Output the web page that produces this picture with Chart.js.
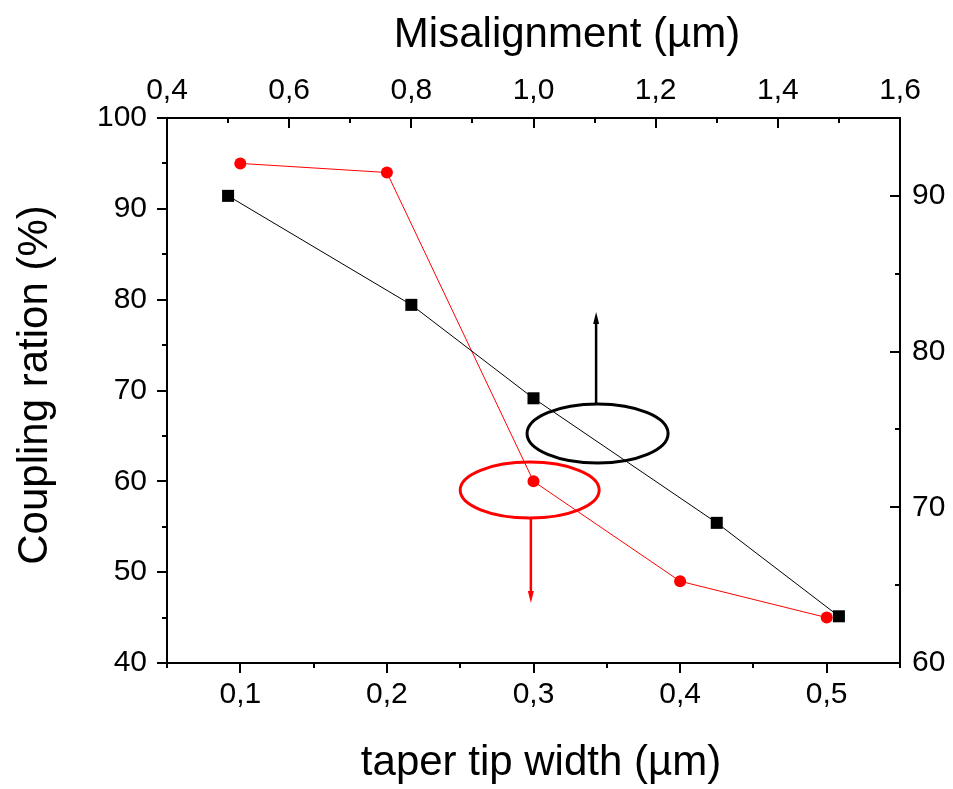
<!DOCTYPE html>
<html>
<head>
<meta charset="utf-8">
<script src="https://cdn.jsdelivr.net/npm/chart.js@4.4.0/dist/chart.umd.min.js"></script>
<style>
    html, body { margin: 0; padding: 0; background: #ffffff; }
    #contenedor { width: 953px; height: 789px; }
</style>
</head>
<body>
<div id="contenedor"><canvas id="graficaAcoplamiento" width="953" height="789"></canvas></div>
<script>
// taper tip width (bottom axis) vs coupling (left axis)
const taperWidth = [0.1, 0.2, 0.3, 0.4, 0.5];
const couplingTaper = [95, 94, 60, 49, 45];
// misalignment (top axis) vs coupling (right axis)
const misalignment = [0.5, 0.8, 1.0, 1.3, 1.5];
const couplingMisalign = [90, 83, 77, 69, 63];

const bottomTicks = [0.1, 0.2, 0.3, 0.4, 0.5];
const bottomMinor = [0.05, 0.15, 0.25, 0.35, 0.45, 0.55];
const topTicks = [0.4, 0.6, 0.8, 1.0, 1.2, 1.4, 1.6];
const topMinor = [0.5, 0.7, 0.9, 1.1, 1.3, 1.5];
const leftTicks = [40, 50, 60, 70, 80, 90, 100];
const leftMinor = [45, 55, 65, 75, 85, 95];
const rightTicks = [60, 70, 80, 90];
const rightMinor = [65, 75, 85, 95];

const FAMILIA = "'Liberation Sans', Arial, sans-serif";
const coma = (v) => Number(v).toFixed(1).replace('.', ',');
const fijarTicks = (lista) => (scale) => { scale.ticks = lista.map(v => ({ value: v })); };

// frame, major and minor ticks, axis titles
const ejes = {
    id: 'ejes',
    afterDraw(chart) {
        const ctx = chart.ctx;
        const area = chart.chartArea;
        const s = chart.scales;
        ctx.save();
        ctx.strokeStyle = '#000000';
        ctx.lineWidth = 2;
        ctx.strokeRect(area.left, area.top, area.right - area.left, area.bottom - area.top);

        function horiz(scale, valores, y0, dir, largo) {
            valores.forEach(v => {
                const px = Math.round(scale.getPixelForValue(v));
                ctx.beginPath();
                ctx.moveTo(px, y0);
                ctx.lineTo(px, y0 + dir * largo);
                ctx.stroke();
            });
        }
        function vert(scale, valores, x0, dir, largo) {
            valores.forEach(v => {
                const py = Math.round(scale.getPixelForValue(v));
                ctx.beginPath();
                ctx.moveTo(x0, py);
                ctx.lineTo(x0 + dir * largo, py);
                ctx.stroke();
            });
        }
        horiz(s.x, bottomTicks, area.bottom, 1, 10);
        horiz(s.x, bottomMinor, area.bottom, 1, 5);
        horiz(s.x2, topTicks, area.top, 1, 10);
        horiz(s.x2, topMinor, area.top, 1, 5);
        vert(s.y, leftTicks, area.left, -1, 10);
        vert(s.y, leftMinor, area.left, -1, 5);
        vert(s.y2, rightTicks, area.right, -1, 10);
        vert(s.y2, rightMinor, area.right, -1, 5);

        ctx.fillStyle = '#000000';
        ctx.font = '42px ' + FAMILIA;
        ctx.textAlign = 'center';
        ctx.textBaseline = 'alphabetic';
        ctx.fillText('Misalignment (µm)', 567, 47);
        ctx.fillText('taper tip width (µm)', 541, 775);
        ctx.translate(47, 385);
        ctx.rotate(-Math.PI / 2);
        ctx.fillText('Coupling ration (%)', 0, 0);
        ctx.restore();
    }
};

// ellipses with arrows pointing to the axis of each curve
const indicadores = {
    id: 'indicadores',
    afterDatasetsDraw(chart) {
        const ctx = chart.ctx;
        const x = chart.scales.x;
        const y = chart.scales.y;

        function elipse(cx, cy, rx, ry, color) {
            const px = x.getPixelForValue(cx);
            const py = y.getPixelForValue(cy);
            ctx.beginPath();
            ctx.ellipse(px, py,
                x.getPixelForValue(cx + rx) - px,
                py - y.getPixelForValue(cy + ry), 0, 0, Math.PI * 2);
            ctx.strokeStyle = color;
            ctx.lineWidth = 3;
            ctx.stroke();
        }
        function flecha(vx, desde, hasta, color) {
            const px = x.getPixelForValue(vx);
            const p0 = y.getPixelForValue(desde);
            const p1 = y.getPixelForValue(hasta);
            const dir = p1 > p0 ? 1 : -1;
            ctx.strokeStyle = color;
            ctx.fillStyle = color;
            ctx.lineWidth = 2.5;
            ctx.beginPath();
            ctx.moveTo(px, p0);
            ctx.lineTo(px, p1 - dir * 8);
            ctx.stroke();
            ctx.beginPath();
            ctx.moveTo(px, p1);
            ctx.lineTo(px - 3, p1 - dir * 12);
            ctx.lineTo(px + 3, p1 - dir * 12);
            ctx.closePath();
            ctx.fill();
        }
        ctx.save();
        elipse(0.3437, 65.27, 0.0481, 3.25, '#000000');
        flecha(0.3427, 68.52, 78.64, '#000000');
        elipse(0.2974, 59.04, 0.0474, 3.08, '#ff0000');
        flecha(0.2982, 55.96, 46.6, '#ff0000');
        ctx.restore();
    }
};

const lienzo = document.getElementById('graficaAcoplamiento');
new Chart(lienzo, {
    type: 'scatter',
    data: {
        datasets: [{
            label: 'Misalignment',
            data: misalignment.map((v, i) => ({ x: v, y: couplingMisalign[i] })),
            xAxisID: 'x2',
            yAxisID: 'y2',
            showLine: true,
            borderColor: '#000000',
            borderWidth: 1,
            backgroundColor: '#000000',
            pointStyle: 'rect',
            pointRadius: 8.5,
            pointBorderWidth: 0
        }, {
            label: 'Taper tip width',
            data: taperWidth.map((v, i) => ({ x: v, y: couplingTaper[i] })),
            xAxisID: 'x',
            yAxisID: 'y',
            showLine: true,
            borderColor: '#ff0000',
            borderWidth: 1,
            backgroundColor: '#ff0000',
            pointStyle: 'circle',
            pointRadius: 6,
            pointBorderWidth: 0
        }]
    },
    options: {
        responsive: false,
        animation: false,
        layout: { padding: 0 },
        plugins: {
            legend: { display: false },
            tooltip: { enabled: false }
        },
        scales: {
            x: {
                type: 'linear',
                position: 'bottom',
                min: 0.05,
                max: 0.55,
                afterBuildTicks: fijarTicks(bottomTicks),
                afterFit: (scale) => { scale.height = 126; },
                grid: { display: false, drawTicks: false },
                border: { display: false },
                ticks: {
                    autoSkip: false,
                    maxRotation: 0,
                    padding: 14,
                    color: '#000000',
                    font: { family: FAMILIA, size: 30 },
                    callback: coma
                }
            },
            x2: {
                type: 'linear',
                position: 'top',
                min: 0.4,
                max: 1.6,
                afterBuildTicks: fijarTicks(topTicks),
                afterFit: (scale) => { scale.height = 118; },
                grid: { display: false, drawTicks: false },
                border: { display: false },
                ticks: {
                    autoSkip: false,
                    maxRotation: 0,
                    padding: 9,
                    color: '#000000',
                    font: { family: FAMILIA, size: 30 },
                    callback: coma
                }
            },
            y: {
                type: 'linear',
                position: 'left',
                min: 40,
                max: 100,
                afterBuildTicks: fijarTicks(leftTicks),
                afterFit: (scale) => { scale.width = 167; },
                grid: { display: false, drawTicks: false },
                border: { display: false },
                ticks: {
                    autoSkip: false,
                    padding: 20,
                    color: '#000000',
                    font: { family: FAMILIA, size: 30 }
                }
            },
            y2: {
                type: 'linear',
                position: 'right',
                min: 60,
                max: 95,
                afterBuildTicks: fijarTicks(rightTicks),
                afterFit: (scale) => { scale.width = 53; },
                grid: { display: false, drawTicks: false },
                border: { display: false },
                ticks: {
                    autoSkip: false,
                    padding: 12,
                    color: '#000000',
                    font: { family: FAMILIA, size: 30 }
                }
            }
        }
    },
    plugins: [indicadores, ejes]
});
</script>
</body>
</html>
